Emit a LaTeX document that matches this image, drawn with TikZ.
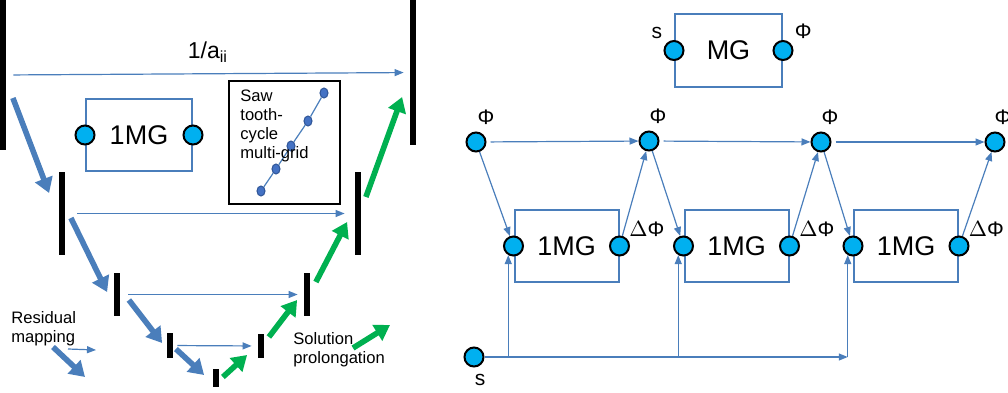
\documentclass[tikz,border=0pt]{standalone}
\usepackage{fontspec}
\setmainfont{Liberation Sans}
\usetikzlibrary{arrows.meta,shapes.geometric}

\definecolor{mgblue}{HTML}{4A7EBB}
\definecolor{mggreen}{HTML}{00B050}
\definecolor{portfill}{HTML}{00B0F0}
\definecolor{dotfill}{HTML}{4472C4}
\definecolor{dotline}{HTML}{2F5597}

\tikzset{
  rung/.style={fill=black, inner sep=0pt, minimum width=3pt},
  fall/.style={draw=mgblue, line width=2.8pt, -{Triangle[length=7.5pt,width=9pt]}},
  rise/.style={draw=mggreen, line width=2.8pt, -{Triangle[length=7.5pt,width=9pt]}},
  link/.style={draw=mgblue, line width=0.6pt, -{Triangle[length=4.5pt,width=3.5pt]}},
  port/.style={circle, draw=black, fill=portfill, line width=1pt, minimum size=9.5pt, inner sep=0pt},
  mgbox/.style={draw=mgblue, line width=1pt, minimum width=52pt, minimum height=36pt, inner sep=0pt, font=\fontsize{13.5}{16}\selectfont},
  sawdot/.style={ellipse, draw=dotline, fill=dotfill, line width=0.5pt, minimum width=4pt, minimum height=5pt, inner sep=0pt},
  note/.style={align=left, inner sep=0pt, font=\fontsize{8.3}{9.5}\selectfont},
  tag/.style={font=\fontsize{10.5}{12}\selectfont}
}

\begin{document}
\begin{tikzpicture}[x=0.5pt, y=-0.5pt]
\useasboundingbox (0,0) rectangle (1008,392);

% V-cycle levels
\node[rung, minimum height=75pt] (d1) at (3,75) {};
\node[rung, minimum height=41.5pt] (d2) at (62,213.5) {};
\node[rung, minimum height=21.5pt] (d3) at (117,294.5) {};
\node[rung, minimum height=12.5pt] (d4) at (170,345.5) {};
\node[rung, minimum height=9pt] (d5) at (216,378) {};
\node[rung, minimum height=12pt] (u4) at (261,346) {};
\node[rung, minimum height=21.5pt] (u3) at (307,294.5) {};
\node[rung, minimum height=41.5pt] (u2) at (358,213.5) {};
\node[rung, minimum height=72.5pt] (u1) at (413,72.5) {};

\draw[link, shorten <=3.5pt, shorten >=3pt] (d1) -- (u1)
  node[midway, above=2pt, font=\fontsize{11.5}{13}\selectfont] (aii) {1/a\textsubscript{ii}};
\draw[link, shorten <=6pt, shorten >=5pt] (d2) -- (u2);
\draw[link, shorten <=4pt, shorten >=3pt] (d3) -- (u3);
\draw[link, shorten <=2pt, shorten >=3pt] (d4) -- (u4);

\draw[fall] ([shift={(6.5,23)}]d1.east) -- ([shift={(-9.5,-20.5)}]d2.west);
\draw[fall] ([shift={(5.5,4.5)}]d2.east) -- ([shift={(-6.5,-2.5)}]d3.west);
\draw[fall] ([shift={(8.5,5.5)}]d3.east) -- ([shift={(-4.5,-2.5)}]d4.west);
\draw[fall] ([shift={(2.5,3.5)}]d4.east) -- ([shift={(-8.5,-3)}]d5.west);
\draw[rise] ([shift={(3.5,-1)}]d5.east) -- ([shift={(-10.5,9)}]u4.west);
\draw[rise] ([shift={(4.5,-9)}]u4.east) -- ([shift={(-6.5,5.5)}]u3.west);
\draw[rise] ([shift={(5.5,-12.5)}]u3.east) -- ([shift={(-7.5,8.5)}]u2.west);
\draw[rise] ([shift={(4.5,-16.5)}]u2.east) -- ([shift={(-7.5,24.5)}]u1.west);

% one-level box
\node[mgbox, minimum width=53pt] (onemg) at (139,135) {1MG};
\node[port] (ina) at (onemg.west) {};
\node[port] (outa) at (onemg.east) {};

% saw tooth
\node[draw, line width=0.7pt, minimum width=55.5pt, minimum height=61.5pt] (saw) at (284.5,142.5) {};
\node[sawdot] (st1) at (261,191) {};
\node[sawdot] (st2) at (276,169) {};
\node[sawdot] (st3) at (291,146) {};
\node[sawdot] (st4) at (308,121) {};
\node[sawdot] (st5) at (324,93) {};
\draw[mgblue, line width=0.6pt] (st1) -- (st2) -- (st3) -- (st4) -- (st5);
\node[note, anchor=north west] (sawtxt) at (240,90) {Saw\\tooth-\\cycle\\multi-grid};

% legend
\node[note, anchor=north west] (resid) at (11,311) {Residual\\mapping};
\coordinate (rm1) at (68,349);
\coordinate (rm2) at (96,350);
\coordinate (rm3) at (53,347);
\coordinate (rm4) at (85,377);
\draw[link] (rm1) -- (rm2);
\draw[fall] (rm3) -- (rm4);
\node[note, anchor=north west] (solpro) at (293,332) {Solution\\prolongation};
\coordinate (sp1) at (353,348);
\coordinate (sp2) at (390,325);
\draw[rise] (sp1) -- (sp2);

% MG as a chain of 1MG
\node[mgbox, minimum width=53.5pt, minimum height=36.5pt] (mg) at (728.5,50.5) {MG};
\node[port, label={[tag, inner sep=2pt]above left:s}] (mgin) at (mg.west) {};
\node[port, label={[tag, inner sep=2pt]above right:Φ}] (mgout) at (mg.east) {};

\node[port, label={[tag, xshift=5pt]above:Φ}] (p0) at (476,142) {};
\node[port, label={[tag, xshift=4.5pt]above:Φ}] (p1) at (649,141) {};
\node[port, label={[tag, xshift=4.5pt]above:Φ}] (p2) at (821,142) {};
\node[port, label={[tag, xshift=4pt]above:Φ}] (p3) at (995,142) {};

\node[mgbox] (c1) at (566.5,246) {1MG};
\node[mgbox] (c2) at (736.5,246) {1MG};
\node[mgbox] (c3) at (906,246) {1MG};
\node[port] (l1) at (c1.west) {};
\node[port] (l2) at (c2.west) {};
\node[port] (l3) at (c3.west) {};
\node[port, label={[tag, inner sep=1pt]above right:$\Delta$Φ}] (r1) at (c1.east) {};
\node[port, label={[tag, inner sep=1pt]above right:$\Delta$Φ}] (r2) at (c2.east) {};
\node[port, label={[tag, inner sep=1pt]above right:$\Delta$Φ}] (r3) at (c3.east) {};

\node[port, label={[tag, xshift=3pt]below:s}] (s) at (474,357) {};

\draw[link, shorten <=2pt] (p0) -- (p1);
\draw[link, shorten <=2pt] (p1) -- (p2);
\draw[link, shorten <=2pt] (p2) -- (p3);
\draw[link] (p0) -- (l1);
\draw[link] (r1) -- (p1);
\draw[link] (p1) -- (l2);
\draw[link] (r2) -- (p2);
\draw[link] (p2) -- (l3);
\draw[link] (r3) -- (p3);

\draw[link] (s) -- (s -| l3.240);
\draw[link] (s -| l1.240) -- (l1.240);
\draw[link] (s -| l2.240) -- (l2.240);
\draw[link] (s -| l3.240) -- (l3.240);
\end{tikzpicture}
\end{document}
